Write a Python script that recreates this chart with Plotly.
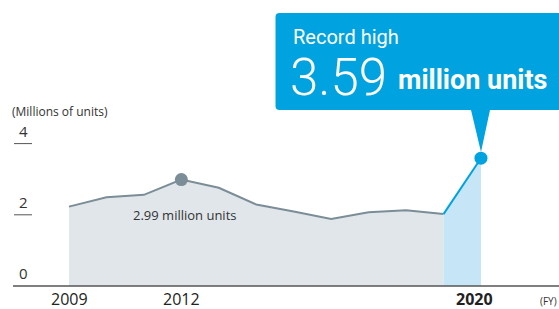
import plotly.graph_objects as go

years = [2009, 2010, 2011, 2012, 2013, 2014, 2015, 2016, 2017, 2018, 2019, 2020]
units = [2.23, 2.49, 2.56, 2.99, 2.76, 2.29, 2.09, 1.88, 2.07, 2.13, 2.02, 3.59]
x_tick_labels = ["2009", "2012", "<b>2020</b>"]
x_tick_vals = [2009, 2012, 2020]
y_tick_vals = [0, 2, 4]

W, H = 559, 309
FONT = "Open Sans"
FONT2 = "Roboto"
GREY_LINE = "#7b8d97"
GREY_FILL = "#e1e6ea"
BLUE = "#00a3e0"
BLUE_FILL = "#c6e5f6"
TEXT = "#333333"

def px(x):
    return x / W

def py(y):
    return 1 - y / H

fig = go.Figure()

fig.add_trace(go.Scatter(
    x=years[:11], y=units[:11], mode="lines", fill="tozeroy",
    fillcolor=GREY_FILL, line=dict(color=GREY_LINE, width=2), hoverinfo="skip"))
fig.add_trace(go.Scatter(
    x=years[10:], y=units[10:], mode="lines", fill="tozeroy",
    fillcolor=BLUE_FILL, line=dict(color=BLUE, width=2), hoverinfo="skip"))
fig.add_trace(go.Scatter(
    x=[years[3]], y=[units[3]], mode="markers",
    marker=dict(color=GREY_LINE, size=13), hoverinfo="skip"))
fig.add_trace(go.Scatter(
    x=[years[11]], y=[units[11]], mode="markers",
    marker=dict(color=BLUE, size=13), hoverinfo="skip"))

shapes = []
shapes.append(dict(type="line", xref="paper", yref="y", x0=px(13), x1=1, y0=0, y1=0,
                   line=dict(color="#555555", width=1.5)))
for v in y_tick_vals[1:]:
    shapes.append(dict(type="line", xref="paper", yref="y", x0=px(14), x1=px(32), y0=v, y1=v,
                       line=dict(color="#555555", width=1)))

L, T, R, B, r = 275.5, 13, 575, 110, 4
path = (f"M {px(L+r)},{py(T)} L {px(R)},{py(T)} L {px(R)},{py(B)} "
        f"L {px(490)},{py(B)} L {px(481)},{py(152)} L {px(471)},{py(B)} "
        f"L {px(L+r)},{py(B)} Q {px(L)},{py(B)} {px(L)},{py(B-r)} "
        f"L {px(L)},{py(T+r)} Q {px(L)},{py(T)} {px(L+r)},{py(T)} Z")
shapes.append(dict(type="path", xref="paper", yref="paper", path=path,
                   fillcolor=BLUE, line=dict(width=0), layer="above"))

annotations = []
for v in y_tick_vals:
    annotations.append(dict(x=px(23), y=v, xref="paper", yref="y", text=str(v),
                            showarrow=False, xanchor="center", yanchor="bottom", yshift=1,
                            font=dict(family=FONT, size=15, color=TEXT)))
annotations.append(dict(x=px(10), y=py(111), xref="paper", yref="paper",
                        text="(Millions of units)", showarrow=False, xanchor="left",
                        yanchor="middle", font=dict(family=FONT, size=12, color=TEXT)))
for v, t in zip(x_tick_vals, x_tick_labels):
    annotations.append(dict(x=v, y=py(298.5), xref="x", yref="paper", text=t,
                            showarrow=False, xanchor="center", yanchor="middle",
                            borderpad=0, xshift=(-6 if v == 2020 else 0),
                            font=dict(family=FONT, size=16, color="#222222")))
annotations.append(dict(x=px(548), y=py(301), xref="paper", yref="paper", text="(FY)",
                        showarrow=False, xanchor="center", yanchor="middle", borderpad=0,
                        font=dict(family=FONT, size=10, color=TEXT)))
annotations.append(dict(x=years[3], y=units[3], xref="x", yref="y",
                        text=f"{units[3]:.2f} million units", showarrow=False,
                        xanchor="center", yanchor="middle", xshift=3, yshift=-35,
                        font=dict(family=FONT, size=13, color=TEXT)))
annotations.append(dict(x=px(291), y=py(37), xref="paper", yref="paper", text="Record high",
                        showarrow=False, xanchor="left", yanchor="middle",
                        font=dict(family=FONT2, size=20, color="white")))
annotations.append(dict(x=px(288), y=py(77), xref="paper", yref="paper",
                        text=f"{units[11]:.2f}", showarrow=False, xanchor="left",
                        yanchor="middle",
                        font=dict(family=FONT2, size=51, color="white", weight=300)))
annotations.append(dict(x=px(396), y=py(80), xref="paper", yref="paper",
                        text="<b>million units</b>", showarrow=False, xanchor="left",
                        yanchor="middle",
                        font=dict(family=FONT2, size=27, color="white")))

x0 = 2009 - 69 / 37.45
x1 = 2009 + (W - 69) / 37.45
y0 = -(H - 286) / 35.6
y1 = 286 / 35.6

fig.update_layout(
    width=W, height=H, margin=dict(l=0, r=0, t=0, b=0),
    paper_bgcolor="white", plot_bgcolor="white", showlegend=False,
    xaxis=dict(range=[x0, x1], visible=False, fixedrange=True),
    yaxis=dict(range=[y0, y1], visible=False, fixedrange=True),
    shapes=shapes, annotations=annotations,
)

fig.write_html("out.html", config={"displayModeBar": False},
               post_script="document.body.style.margin='0';document.body.style.overflow='hidden';")
